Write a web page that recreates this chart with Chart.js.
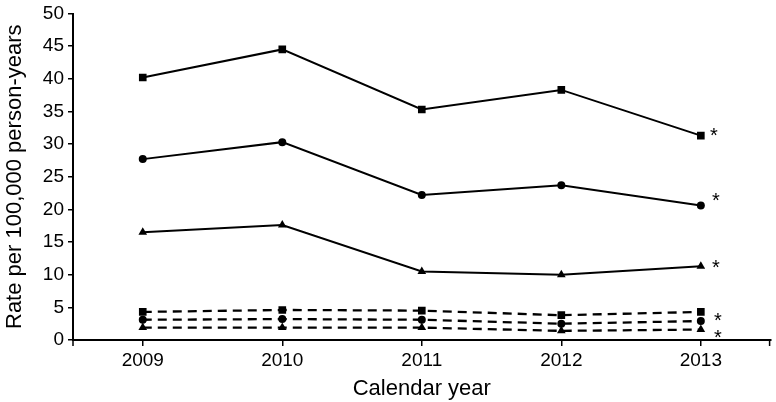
<!DOCTYPE html>
<html><head><meta charset="utf-8">
<script src="https://cdn.jsdelivr.net/npm/chart.js@4/dist/chart.umd.min.js"></script>
<style>html,body{margin:0;padding:0;background:#fff;overflow:hidden}canvas{display:block}</style>
</head><body><canvas id="c" width="776" height="402"></canvas>
<script>
const categories = ['2009','2010','2011','2012','2013'];
const solidSquare = [40.2, 44.5, 35.3, 38.3, 31.3];
const solidCircle = [27.7, 30.3, 22.2, 23.7, 20.6];
const solidTriangle = [16.5, 17.6, 10.5, 10.0, 11.3];
const dashedSquare = [4.3, 4.6, 4.5, 3.8, 4.3];
const dashedCircle = [3.1, 3.2, 3.1, 2.5, 2.9];
const dashedTriangle = [1.9, 1.9, 1.9, 1.4, 1.6];
const yTicks = [0,5,10,15,20,25,30,35,40,45,50];
const starMarks = ['*','*','*','','*','*'];

const FONT = 'Liberation Sans, Arial, sans-serif';
function ds(data, style, dashed, radius) {
  return {data, borderColor:'#000', backgroundColor:'#000', borderWidth: dashed ? 2.3 : 2,
    borderDash: dashed ? [9,6] : [], pointStyle: style, pointRadius: radius,
    pointBorderWidth: 0, pointHoverRadius: radius, tension:0, fill:false};
}
const starOffsets = [[13,-3],[15,-8],[15,-2],[0,0],[17,-4],[17,5]];
const starPlugin = {
  id:'stars',
  afterDatasetsDraw(chart){
    const ctx = chart.ctx;
    ctx.save();
    ctx.fillStyle = '#000';
    ctx.font = '20px ' + FONT;
    ctx.textAlign = 'center';
    ctx.textBaseline = 'middle';
    chart.data.datasets.forEach((d,i)=>{
      if(!starMarks[i]) return;
      const meta = chart.getDatasetMeta(i);
      const pt = meta.data[meta.data.length-1];
      ctx.fillText(starMarks[i], pt.x + starOffsets[i][0], pt.y + starOffsets[i][1] + 4);
    });
    const xs = chart.scales.x, ys = chart.scales.y;
    ctx.strokeStyle='#000'; ctx.lineWidth=1.5;
    ctx.beginPath();
    ctx.moveTo(xs.right-1, ys.bottom); ctx.lineTo(xs.right-1, ys.bottom+6);
    ctx.moveTo(xs.left, ys.bottom); ctx.lineTo(xs.left, ys.bottom+6);
    ctx.stroke();
    ctx.restore();
  }
};
new Chart(document.getElementById('c'), {
  type:'line',
  data:{labels:categories, datasets:[
    ds(solidSquare,'rect',false,5.4),
    ds(solidCircle,'circle',false,4),
    ds(solidTriangle,'triangle',false,5),
    ds(dashedSquare,'rect',true,5.4),
    ds(dashedCircle,'circle',true,4),
    ds(dashedTriangle,'triangle',true,5)
  ]},
  options:{
    responsive:false, animation:false, devicePixelRatio:1,
    layout:{padding:{top:13,right:2,left:0,bottom:0}},
    plugins:{legend:{display:false}, tooltip:{enabled:false}},
    scales:{
      x:{offset:true,
        border:{display:true,color:'#000',width:2},
        grid:{display:true,drawOnChartArea:false,drawTicks:true,tickLength:6,color:'#000',lineWidth:1.5},
        ticks:{color:'#000',font:{family:FONT,size:19},padding:3,maxRotation:0},
        title:{display:true,text:'Calendar year',color:'#000',font:{family:FONT,size:22},padding:{top:4,bottom:0}},
        afterFit(s){s.height=62;}
      },
      y:{min:0,max:50,
        afterBuildTicks(s){s.ticks = yTicks.map(v=>({value:v}));},
        border:{display:true,color:'#000',width:2},
        grid:{display:true,drawOnChartArea:false,drawTicks:true,tickLength:5,color:'#000',lineWidth:1.5},
        ticks:{color:'#000',font:{family:FONT,size:19,lineHeight:1},padding:4},
        title:{display:true,text:'Rate per 100,000 person-years',color:'#000',font:{family:FONT,size:22},padding:{top:2,bottom:0}},
        afterFit(s){s.width=73;}
      }
    }
  },
  plugins:[starPlugin]
});
</script>
</body></html>
